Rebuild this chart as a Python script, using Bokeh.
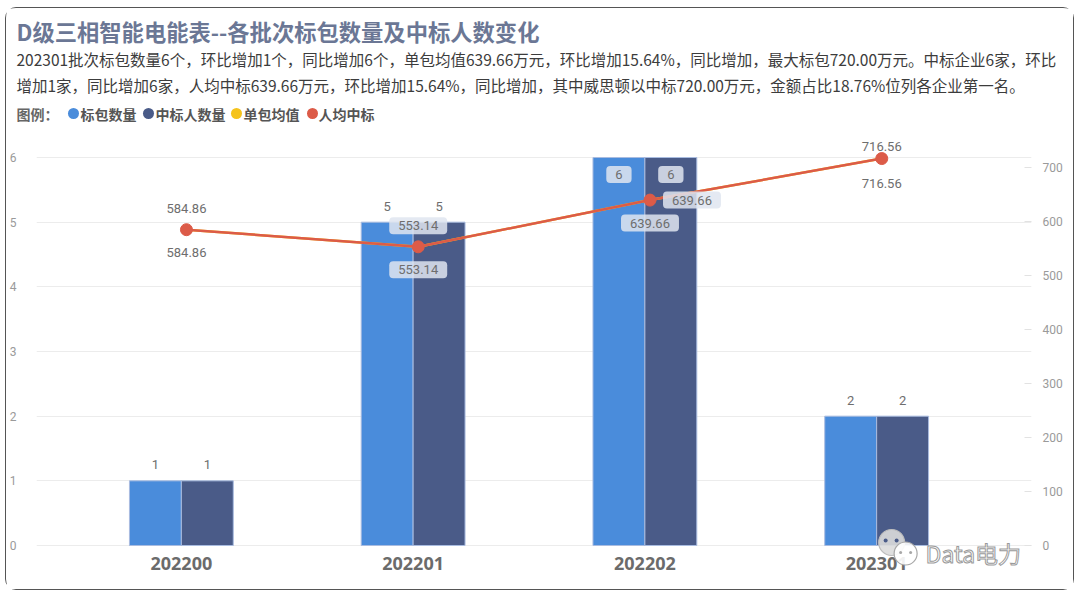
from bokeh.plotting import figure
from bokeh.layouts import column
from bokeh.models import Range1d, LinearAxis, FixedTicker, ColumnDataSource
from bokeh.core.properties import value
from bokeh.embed import file_html
from bokeh.resources import INLINE

# ---------------- data ----------------
categories = ["202200", "202201", "202202", "202301"]
bid_packages = [1, 5, 6, 2]                          # 标包数量
winners = [1, 5, 6, 2]                               # 中标人数量
avg_per_package = [584.86, 553.14, 639.66, 716.56]   # 单包均值
avg_per_winner = [584.86, 553.14, 639.66, 716.56]    # 人均中标
left_ticks = [0, 1, 2, 3, 4, 5, 6]
right_ticks = [0, 100, 200, 300, 400, 500, 600, 700]

title_text = "D级三相智能电能表--各批次标包数量及中标人数变化"
subtitle_lines = [
    "202301批次标包数量6个，环比增加1个，同比增加6个，单包均值639.66万元，环比增加15.64%，同比增加，最大标包720.00万元。中标企业6家，环比",
    "增加1家，同比增加6家，人均中标639.66万元，环比增加15.64%，同比增加，其中威思顿以中标720.00万元，金额占比18.76%位列各企业第一名。",
]
legend_title = "图例："
legend_names = ["标包数量", "中标人数量", "单包均值", "人均中标"]
watermark = "Data电力"

# ---------------- styles ----------------
BLUE = "#4a8cdb"
NAVY = "#4a5b88"
YELLOW = "#f5c31c"
RED = "#dc5b48"
LEGEND_COLORS = [BLUE, NAVY, YELLOW, RED]
GRAY_TXT = "#6b6b6b"
TICK_TXT = "#9a9a9a"
BOX_FILL = "#dfe5f0"
NUM_FONT = "Roboto"
CJK_FONT = "Noto Sans CJK SC"

# page geometry (the card spans x 6..1073, y 8..589)
CARD_X0, CARD_Y0, CARD_X1, CARD_Y1 = 6, 8, 1073, 589
HEADER_BOTTOM = 135
FRAME_L, FRAME_R, ZERO_Y = 35, 1031, 545
CW = CARD_X1 - CARD_X0
HH = HEADER_BOTTOM - CARD_Y0
CH = CARD_Y1 - HEADER_BOTTOM

PX_PER_LEFT = 388 / 6.0      # px per unit of the left axis
PX_PER_RIGHT = 378 / 700.0   # px per unit of the right axis
X0_PX, X_STEP_PX = 180, 232  # first category centre and spacing (page px)

BAR_W = 0.224
LINE_DX = 0.022
n = len(categories)
xc = list(range(n))

# ---------------- header figure ----------------
hd = figure(width=CW, height=HH, output_backend="svg", toolbar_location=None,
            x_range=Range1d(CARD_X0, CARD_X1), y_range=Range1d(HEADER_BOTTOM, CARD_Y0),
            x_axis_location=None, y_axis_location=None, min_border=0,
            background_fill_color="white", border_fill_color="white", outline_line_color=None)
hd.grid.visible = False
hd.frame_align = False


def htext(x, y, text, size, color, style="normal", font=CJK_FONT):
    hd.text(x=[x], y=[y], text=[text], text_font=value(font), text_font_size=size,
            text_color=color, text_font_style=style, text_align="left", text_baseline="middle")


htext(16, 30, title_text, "22.3px", "#6b7795", style="bold")
for k, line in enumerate(subtitle_lines):
    htext(16, 58 + 26 * k, line, "15.5px", "#3c3c3c")
htext(16, 113, legend_title, "14px", "#666666", style="bold")
dot_x = [73, 148, 236, 312]
txt_x = [80, 155, 243, 318]
hd.scatter(x=dot_x, y=[113] * len(dot_x), size=11, fill_color=LEGEND_COLORS, line_color=None)
for name, txp in zip(legend_names, txt_x):
    htext(txp, 113, name, "14px", "#555555", style="bold")

# ---------------- chart figure ----------------
x_start = (FRAME_L - X0_PX) / X_STEP_PX
x_end = (FRAME_R - X0_PX) / X_STEP_PX
yl_start = -(CARD_Y1 - ZERO_Y) / PX_PER_LEFT
yl_end = (ZERO_Y - HEADER_BOTTOM) / PX_PER_LEFT
yr_start = -(CARD_Y1 - ZERO_Y) / PX_PER_RIGHT
yr_end = (ZERO_Y - HEADER_BOTTOM) / PX_PER_RIGHT

p = figure(width=CW, height=CH, output_backend="svg", toolbar_location=None,
           x_range=Range1d(x_start, x_end), y_range=Range1d(yl_start, yl_end),
           x_axis_location=None,
           min_border_left=FRAME_L - CARD_X0, min_border_right=CARD_X1 - FRAME_R,
           min_border_top=0, min_border_bottom=0,
           background_fill_color="white", border_fill_color="white", outline_line_color=None)
p.frame_align = False
p.extra_y_ranges = {"right": Range1d(yr_start, yr_end)}

p.yaxis.ticker = FixedTicker(ticks=left_ticks)
p.yaxis.axis_line_color = None
p.yaxis.major_tick_line_color = None
p.yaxis.minor_tick_line_color = None
p.yaxis.major_label_text_font = NUM_FONT
p.yaxis.major_label_text_font_size = "12px"
p.yaxis.major_label_text_color = TICK_TXT
p.yaxis.major_label_standoff = 14

ry = LinearAxis(y_range_name="right", ticker=FixedTicker(ticks=right_ticks))
ry.axis_line_color = None
ry.major_tick_in = 7
ry.major_tick_out = 0
ry.major_tick_line_color = "#e2e2e2"
ry.minor_tick_line_color = None
ry.major_label_text_font = NUM_FONT
ry.major_label_text_font_size = "12px"
ry.major_label_text_color = TICK_TXT
ry.major_label_standoff = 11
p.add_layout(ry, "right")

p.xgrid.grid_line_color = None
p.ygrid.grid_line_color = "#ececec"
p.ygrid.grid_line_width = 1

# category labels (x axis)
p.text(x=xc, y=[0] * n, text=categories, y_offset=18, text_font=value("Open Sans"),
       text_font_style="bold", text_font_size="18px", text_color=GRAY_TXT,
       text_align="center", text_baseline="middle")

# bars
x_blue = [x - BAR_W / 2 for x in xc]
x_navy = [x + BAR_W / 2 for x in xc]
p.vbar(x=x_blue, top=bid_packages, bottom=0, width=BAR_W, fill_color=BLUE,
       line_color="#a9bce0", line_width=1)
p.vbar(x=x_navy, top=winners, bottom=0, width=BAR_W, fill_color=NAVY,
       line_color="#a9bce0", line_width=1)

# lines
x_line = [x + LINE_DX for x in xc]
p.line(x=x_line, y=avg_per_package, y_range_name="right", line_color=YELLOW, line_width=2.5)
p.line(x=x_line, y=avg_per_winner, y_range_name="right", line_color=RED, line_width=2.5)
p.scatter(x=x_line, y=avg_per_winner, y_range_name="right", size=12,
          fill_color=RED, line_color=RED)

# data labels
bar_dy = [16, 16, -17, 16]
bar_boxed = [False, False, True, False]
above_dx = [0, 0, 42, 0]
above_dy = [21, 21, 0, 12]
below_dy = [-23, -23, -23, -25]
line_boxed = [False, True, True, False]


def add_labels(xs, ys, texts, dxs, dys, boxed, y_range_name="default"):
    for want_box in (False, True):
        idx = [i for i in range(len(xs)) if boxed[i] == want_box]
        if not idx:
            continue
        src = ColumnDataSource(dict(
            x=[xs[i] for i in idx], y=[ys[i] for i in idx],
            t=[texts[i] for i in idx], dx=[dxs[i] for i in idx],
            dy=[-dys[i] for i in idx]))
        kw = dict(x="x", y="y", text="t", x_offset="dx", y_offset="dy", source=src,
                  text_font=value(NUM_FONT), text_font_size="13px", text_color="#6e6e6e",
                  text_align="center", text_baseline="middle", y_range_name=y_range_name)
        if want_box:
            kw.update(background_fill_color=BOX_FILL, background_fill_alpha=0.85,
                      padding=(9, 4), border_radius=4)
        p.text(**kw)


zeros = [0] * n
add_labels(x_blue, bid_packages, [str(v) for v in bid_packages], zeros, bar_dy, bar_boxed)
add_labels(x_navy, winners, [str(v) for v in winners], zeros, bar_dy, bar_boxed)
add_labels(x_line, avg_per_package, [f"{v:.2f}" for v in avg_per_package], above_dx, above_dy,
           line_boxed, "right")
add_labels(x_line, avg_per_winner, [f"{v:.2f}" for v in avg_per_winner], zeros, below_dy,
           line_boxed, "right")


# watermark (page-pixel placement converted to data coordinates)
def dx_(px):
    return (px - X0_PX) / X_STEP_PX


def dy_(py):
    return (ZERO_Y - py) / PX_PER_LEFT


WM = -12   # shift so the watermark stays inside the plot frame
p.scatter(x=[dx_(903 + WM)], y=[dy_(542)], size=26, fill_color="#dcdcdc", line_color="#bdbdbd",
          line_width=1.2, fill_alpha=0.9)
p.scatter(x=[dx_(897 + WM), dx_(908 + WM)], y=[dy_(540)] * 2, size=4, fill_color="#4a5b88",
          line_color=None)
p.scatter(x=[dx_(917 + WM)], y=[dy_(553)], size=23, fill_color="white", line_color="#a8a8a8",
          line_width=1.2, fill_alpha=0.9)
p.scatter(x=[dx_(912 + WM), dx_(922 + WM)], y=[dy_(552)] * 2, size=3, fill_color="#a8a8a8",
          line_color=None)
p.text(x=[dx_(937 + WM)], y=[dy_(552)], text=[watermark], text_font=value(CJK_FONT),
       text_font_size="23px", text_color="white", text_outline_color="#9a9a9a",
       text_align="left", text_baseline="middle")

card = column(hd, p, margin=(CARD_Y0, 0, 0, CARD_X0),
              styles={"outline": "1.5px solid #555555", "border-radius": "10px"})

open("out.html", "w").write(file_html(card, INLINE))
